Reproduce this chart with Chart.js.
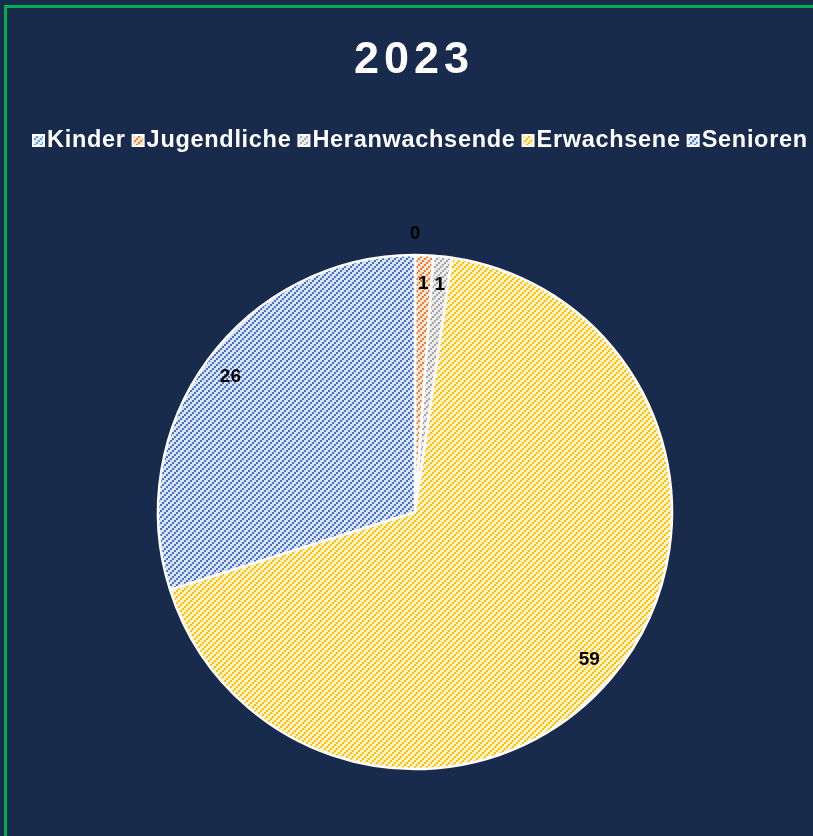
<!DOCTYPE html>
<html>
<head>
<meta charset="utf-8">
<script src="https://cdn.jsdelivr.net/npm/chart.js@4"></script>
<style>
  html, body { margin: 0; padding: 0; background: #182b4c; overflow: hidden; }
  #frame { position: absolute; left: 4px; top: 5px; width: 900px; height: 900px;
           border: 3px solid #00b050; background: #182b4c; }
  #chart { position: absolute; left: 0; top: 0; }
</style>
</head>
<body>
<div id="frame"></div>
<canvas id="chart" width="813" height="836"></canvas>
<script>
// --- DATA ---
const chartTitle = "2023";
const categories = ["Kinder", "Jugendliche", "Heranwachsende", "Erwachsene", "Senioren"];
const values = [0, 1, 1, 59, 26];

// line colour + light background for each hatch pattern
const lineColors = ["#5b9bd5", "#ed7d31", "#a5a5a5", "#ffc000", "#4472c4"];
const bgColors = ["#deebf7", "#fbe5d6", "#ededed", "#fff2cc", "#dae3f3"];

// upward diagonal hatch, built from 2x2 blocks on a 6x6 tile
function makeHatch(line, bg) {
    const tile = document.createElement("canvas");
    tile.width = 6;
    tile.height = 6;
    const t = tile.getContext("2d");
    t.fillStyle = bg;
    t.fillRect(0, 0, 6, 6);
    t.fillStyle = line;
    for (let bx = 0; bx < 3; bx++) {
        for (let by = 0; by < 3; by++) {
            if ((bx + by) % 3 === 2) t.fillRect(bx * 2, by * 2, 2, 2);
        }
    }
    return t.createPattern(tile, "repeat");
}

const ctx = document.getElementById("chart").getContext("2d");
const patterns = lineColors.map((c, i) => makeHatch(c, bgColors[i]));

// --- TITLE, LEGEND AND SLICE LABELS ---
const decorPlugin = {
    id: "decor",
    afterDraw(chart) {
        const c = chart.ctx;
        c.save();

        // title
        c.fillStyle = "#ffffff";
        c.font = "bold 45px 'Liberation Sans', Arial, sans-serif";
        c.letterSpacing = "5px";
        c.textAlign = "center";
        c.textBaseline = "alphabetic";
        c.fillText(chartTitle, 414, 73);

        // legend
        c.font = "bold 23.5px 'Liberation Sans', Arial, sans-serif";
        c.letterSpacing = "0.7px";
        c.textAlign = "left";
        c.textBaseline = "middle";
        let x = 32;
        const y = 140;
        categories.forEach((name, i) => {
            c.fillStyle = "#ffffff";
            c.fillRect(x, y - 6, 13, 13);
            c.fillStyle = patterns[i];
            c.fillRect(x + 2, y - 4, 9, 9);
            c.fillStyle = "#ffffff";
            c.fillText(name, x + 15, y + 1);
            x += 15 + c.measureText(name).width + 6;
        });

        // data labels
        const meta = chart.getDatasetMeta(0);
        c.letterSpacing = "0px";
        c.font = "bold 19px 'Liberation Sans', Arial, sans-serif";
        c.fillStyle = "#000000";
        c.textAlign = "center";
        c.textBaseline = "middle";
        meta.data.forEach((arc, i) => {
            const p = arc.getProps(["x", "y", "startAngle", "endAngle", "outerRadius"], true);
            const mid = (p.startAngle + p.endAngle) / 2;
            const r = values[i] === 0 ? p.outerRadius + 21 : p.outerRadius * 0.89;
            c.fillText(String(values[i]), p.x + Math.cos(mid) * r, p.y + Math.sin(mid) * r);
        });

        c.restore();
    }
};

new Chart(ctx, {
    type: "pie",
    data: {
        labels: categories,
        datasets: [{
            data: values,
            backgroundColor: patterns,
            borderColor: "#ffffff",
            borderWidth: 2.5,
            hoverOffset: 0,
            radius: 257
        }]
    },
    options: {
        responsive: false,
        animation: false,
        events: [],
        layout: { padding: { left: 17, right: 0, top: 188, bottom: 0 } },
        plugins: {
            legend: { display: false },
            title: { display: false },
            tooltip: { enabled: false }
        }
    },
    plugins: [decorPlugin]
});
</script>
</body>
</html>
